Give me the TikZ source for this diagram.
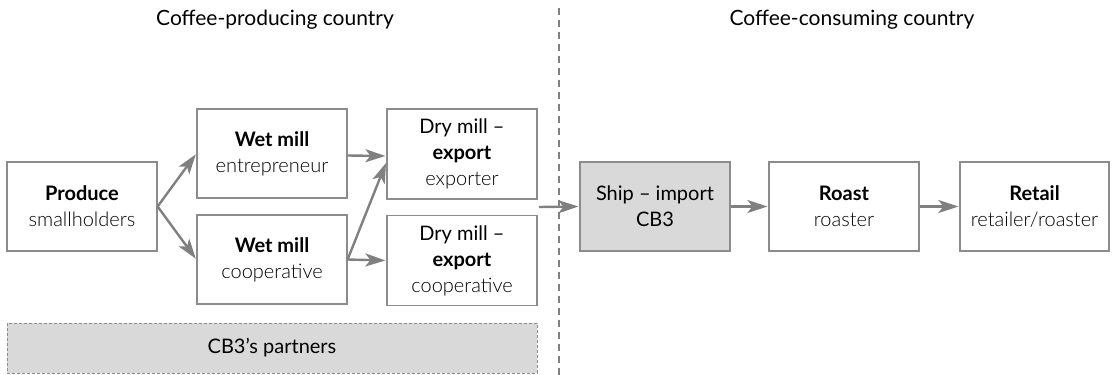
\documentclass[tikz,border=0pt]{standalone}
\usepackage{fontspec}
\setmainfont{Lato}
\newfontfamily\lightfont{Lato Light}
\usetikzlibrary{arrows.meta}
\definecolor{boxline}{RGB}{140,140,140}
\definecolor{arrowgray}{RGB}{128,128,128}
\definecolor{fillgray}{RGB}{217,217,217}
\begin{document}
\begin{tikzpicture}[x=1pt,y=-1pt,
  every node/.style={font=\fontsize{20}{26}\selectfont, align=center, inner sep=0pt},
  stagebox/.style={draw=boxline, line width=1.2pt, fill=white, minimum width=150pt, minimum height=89pt},
  graybox/.style={stagebox, fill=fillgray},
  flow/.style={draw=arrowgray, line width=2.4pt, -{Stealth[length=20pt,width=13pt,inset=5pt]}, shorten >=1pt},
  divider/.style={draw=arrowgray, line width=1.8pt, dash pattern=on 7pt off 5pt},
  titletext/.style={font=\fontsize{21}{24}\selectfont}
]
\useasboundingbox (0,0) rectangle (1112,375);

\node[titletext] (titleL) at (275,20) {Coffee-producing country};
\node[titletext] (titleR) at (852,20) {Coffee-consuming country};

\coordinate (divtop) at (559,8);
\coordinate (divbot) at (559,375);
\draw[divider] (divtop) -- (divbot);

\node[stagebox] (produce) at (82,206.5) {\textbf{Produce}\\{\lightfont smallholders}};
\node[stagebox] (wetent) at (272,153.5) {\textbf{Wet mill}\\{\lightfont entrepreneur}};
\node[stagebox] (wetcoop) at (272,259.5) {\textbf{Wet mill}\\{\lightfont cooperative}};
\node[stagebox, minimum height=90pt] (dryexp) at (462,154) {Dry mill --\\\textbf{export}\\{\lightfont exporter}};
\node[stagebox, minimum height=90pt] (drycoop) at (462,260.5) {Dry mill --\\\textbf{export}\\{\lightfont cooperative}};
\node[graybox] (ship) at (655,206.5) {Ship -- import\\CB3};
\node[stagebox] (roast) at (844,206.5) {\textbf{Roast}\\{\lightfont roaster}};
\node[stagebox, minimum width=149pt] (retail) at (1034.5,206.5) {\textbf{Retail}\\{\lightfont retailer/roaster}};

\node[draw=boxline, line width=0.9pt, dash pattern=on 3pt off 2pt, fill=fillgray,
      minimum width=530pt, minimum height=50pt] (partners) at (272,348) {CB3's partners};

\coordinate (exportout) at (539,207);

\draw[flow] (produce.east) -- (wetent.west);
\draw[flow] (produce.east) -- (wetcoop.west);
\draw[flow] ([yshift=-2pt]wetent.east) -- ([yshift=-2pt]dryexp.west);
\draw[flow] (wetcoop.east) -- ([yshift=-8pt]dryexp.west);
\draw[flow] (wetcoop.east) -- (drycoop.west);
\draw[flow] (exportout) -- (ship.west);
\draw[flow] (ship.east) -- (roast.west);
\draw[flow] (roast.east) -- (retail.west);
\end{tikzpicture}
\end{document}
